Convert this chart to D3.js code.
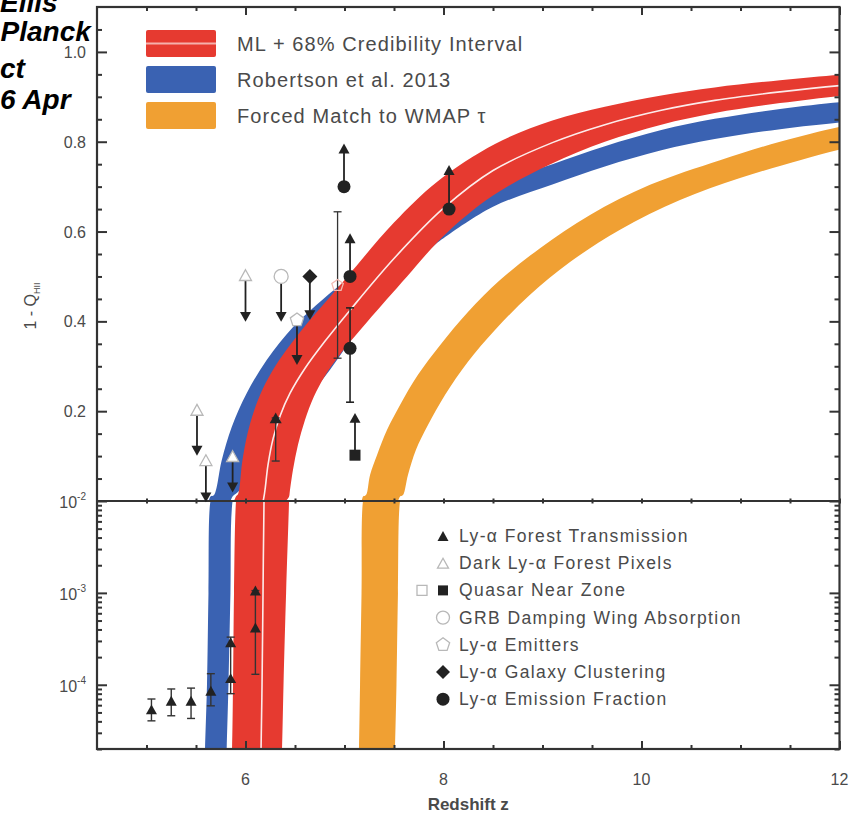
<!DOCTYPE html>
<html>
<head>
<meta charset="utf-8">
<script src="https://cdn.jsdelivr.net/npm/d3@7"></script>
<style>
  body { margin: 0; background: #fff; }
  svg { display: block; }
  text { font-family: "Liberation Sans", Arial, Helvetica, sans-serif; }
</style>
</head>
<body>
<svg id="chart" width="860" height="822"></svg>
<script>
// ---------------- data ----------------
const redshiftTicks = [6, 8, 10, 12];
const redshiftMinor = [5, 5.5, 6.5, 7, 7.5, 8.5, 9, 9.5, 10.5, 11, 11.5];
const linearTicks = [0.2, 0.4, 0.6, 0.8, 1.0];
const linearMinor = [0.05, 0.1, 0.15, 0.25, 0.3, 0.35, 0.45, 0.5, 0.55, 0.65, 0.7, 0.75, 0.85, 0.9, 0.95, 1.05];
const logTicks = [1e-2, 1e-3, 1e-4];
const logTickLabels = ["-2", "-3", "-4"];
const logMinor = [2e-5, 3e-5, 4e-5, 5e-5, 6e-5, 7e-5, 8e-5, 9e-5,
                  2e-4, 3e-4, 4e-4, 5e-4, 6e-4, 7e-4, 8e-4, 9e-4,
                  2e-3, 3e-3, 4e-3, 5e-3, 6e-3, 7e-3, 8e-3, 9e-3];

// band edges as [redshift, 1 - Q_HII]
const mlUpper = [[5.855,1.2e-5],[5.864,2e-5],[5.874,1e-4],[5.884,1e-3],[5.904,0.01],[5.926,0.016],
  [5.968,0.089],[6.02,0.15],[6.085,0.2],[6.175,0.25],[6.3,0.3],[6.46,0.35],[6.64,0.4],[6.855,0.455],
  [7.03,0.5],[7.5,0.62],[7.93,0.71],[8.52,0.795],[9.1,0.847],[9.63,0.878],[10.2,0.903],[10.74,0.921],
  [11.4,0.937],[12,0.949],[12.3,0.954]];
const mlLower = [[6.36,1.2e-5],[6.369,2e-5],[6.384,1e-4],[6.41,1e-3],[6.44,0.01],[6.447,0.02],
  [6.48,0.07],[6.53,0.125],[6.6,0.18],[6.69,0.232],[6.8,0.278],[6.939,0.322],[7.226,0.398],[7.632,0.5],
  [8.0,0.59],[8.5,0.68],[9.08,0.75],[9.63,0.8],[10.2,0.838],[10.74,0.864],[11.4,0.886],[12,0.902],[12.3,0.908]];
const mlBest = [[6.15,1.2e-5],[6.157,2e-5],[6.167,1e-4],[6.177,1e-3],[6.187,0.01],[6.2,0.03],
  [6.227,0.08],[6.28,0.14],[6.35,0.19],[6.45,0.24],[6.6,0.295],[6.8,0.355],[7.056,0.425],[7.5,0.54],
  [8.0,0.652],[8.5,0.736],[9.1,0.798],[9.63,0.838],[10.2,0.87],[10.74,0.892],[11.4,0.911],[12,0.925],[12.3,0.93]];

const robUpper = [[5.585,1.2e-5],[5.591,2e-5],[5.611,1e-4],[5.626,1e-3],[5.646,0.01],[5.682,0.0134],
  [5.76,0.091],[5.861,0.165],[6.012,0.24],[6.214,0.314],[6.483,0.388],[6.786,0.45],[7.0,0.488],
  [7.3,0.54],[7.6,0.59],[8.0,0.645],[8.5,0.705],[9.1,0.75],[9.63,0.79],[10.2,0.826],[10.74,0.851],
  [11.4,0.873],[12,0.888],[12.31,0.893]];
const robLower = [[5.805,1.2e-5],[5.81,2e-5],[5.828,1e-4],[5.848,1e-3],[5.869,0.01],[5.944,0.0245],
  [6.096,0.091],[6.45,0.18],[6.854,0.292],[7.2,0.4],[7.6,0.5],[7.9,0.568],[8.0,0.585],[8.5,0.655],
  [9.1,0.705],[9.63,0.745],[10.2,0.781],[10.74,0.806],[11.4,0.828],[12,0.843],[12.31,0.849]];

const wmapUpper = [[7.14,1.2e-5],[7.146,2e-5],[7.157,1e-4],[7.172,1e-3],[7.187,0.01],[7.217,0.0134],
  [7.258,0.058],[7.328,0.102],[7.429,0.158],[7.561,0.214],[7.742,0.281],[7.965,0.347],[8.247,0.421],
  [8.571,0.492],[8.975,0.563],[9.48,0.637],[10.086,0.704],[10.793,0.759],[11.399,0.8],[11.995,0.833],[12.308,0.846]];
const wmapLower = [[7.505,1.2e-5],[7.51,2e-5],[7.525,1e-4],[7.54,1e-3],[7.561,0.01],[7.591,0.0134],
  [7.641,0.058],[7.722,0.114],[7.843,0.169],[8.015,0.236],[8.247,0.31],[8.52,0.381],[8.874,0.459],
  [9.278,0.532],[9.783,0.604],[10.389,0.67],[10.995,0.719],[11.601,0.759],[11.995,0.782],[12.308,0.797]];

// observational constraints
const forestLog = [
  {z: 5.05, v: 5.4e-5, lo: 4.05e-5, hi: 7.0e-5},
  {z: 5.25, v: 6.7e-5, lo: 4.6e-5, hi: 9.0e-5},
  {z: 5.45, v: 6.7e-5, lo: 4.3e-5, hi: 9.2e-5},
  {z: 5.65, v: 8.6e-5, lo: 5.9e-5, hi: 1.32e-4},
  {z: 5.85, v: 1.18e-4, lo: 8.0e-5, hi: 3.3e-4},
  {z: 5.85, v: 2.9e-4},
  {z: 6.1, v: 4.2e-4, lo: 1.3e-4, hi: 1.06e-3},
  {z: 6.1, v: 1.06e-3}
];
const forestLin = [{z: 6.305, v: 0.185, lo: 0.089}];
const darkPixels = [
  {z: 5.51, v: 0.203, to: 0.112},
  {z: 5.6, v: 0.091, to: 0.008},
  {z: 5.87, v: 0.1, to: 0.03},
  {z: 6.0, v: 0.503, to: 0.41}
];
const quasarZone = [{z: 7.106, v: 0.102, to: 0.185}];
const grbWing = [{z: 6.36, v: 0.5, to: 0.41}];
const lyaEmitters = [{z: 6.52, v: 0.403, to: 0.314}];
const lyaEmittersErr = [{z: 6.93, v: 0.48, lo: 0.318, hi: 0.644}];
const lyaClustering = [{z: 6.65, v: 0.5, to: 0.414}];
const emissionFraction = [
  {z: 6.995, v: 0.70, to: 0.785},
  {z: 7.056, v: 0.50, to: 0.585},
  {z: 8.056, v: 0.65, to: 0.737}
];
const emissionFractionErr = [{z: 7.056, v: 0.34, lo: 0.22, hi: 0.43}];

const bandLegend = ["ML + 68% Credibility Interval", "Robertson et al. 2013", "Forced Match to WMAP τ"];
const pointLegend = ["Ly-α Forest Transmission", "Dark Ly-α Forest Pixels", "Quasar Near Zone",
  "GRB Damping Wing Absorption", "Ly-α Emitters", "Ly-α Galaxy Clustering", "Ly-α Emission Fraction"];
const sideNotes = ["Ellis", "Planck", "ct", "6 Apr"];

// ---------------- layout ----------------
const L = 97, R = 839.5, T = 7, M = 501, B = 749;
const RED = "#e63a30", BLUE = "#3a62b2", ORANGE = "#f0a033";
const INK = "#222", GREY = "#4a4a4a", OPEN = "#b8b8b8";

const x = d3.scaleLinear().domain([4.5, 12]).range([L, R]);
const yLin = d3.scaleLinear().domain([0, 1.1]).range([M, T]);
const yLog = d3.scaleLog().domain([2e-5, 1e-2]).range([B, M]);

const svg = d3.select("#chart");
const defs = svg.append("defs");
defs.append("clipPath").attr("id", "clipTop").append("rect")
  .attr("x", L).attr("y", T).attr("width", R - L).attr("height", M - T);
defs.append("clipPath").attr("id", "clipBot").append("rect")
  .attr("x", L).attr("y", M).attr("width", R - L).attr("height", B - M);

const smooth = d3.curveCatmullRom.alpha(0.5);
function bandPath(upper, lower, ys) {
  const line = d3.line().x(d => x(d[0])).y(d => ys(d[1])).curve(smooth);
  const a = line(upper);
  const b = line(lower.slice().reverse());
  return a + "L" + b.slice(1) + "Z";
}

// ---------------- bands in both panels ----------------
[[yLin, "clipTop"], [yLog, "clipBot"]].forEach(([ys, clip]) => {
  const g = svg.append("g").attr("clip-path", `url(#${clip})`);
  g.append("path").attr("d", bandPath(wmapUpper, wmapLower, ys)).attr("fill", ORANGE);
  g.append("path").attr("d", bandPath(robUpper, robLower, ys)).attr("fill", BLUE);
  g.append("path").attr("d", bandPath(mlUpper, mlLower, ys)).attr("fill", RED);
  g.append("path")
    .attr("d", d3.line().x(d => x(d[0])).y(d => ys(d[1])).curve(smooth)(mlBest))
    .attr("fill", "none").attr("stroke", "#fff").attr("stroke-width", 1.6).attr("stroke-opacity", 0.9);
});

// ---------------- frame and ticks ----------------
const axes = svg.append("g").attr("class", "axes");
function tickAxis(axisFn, scale, values, size, transform) {
  const g = axes.append("g").attr("transform", transform)
    .call(axisFn(scale).tickValues(values).tickSizeInner(size).tickSizeOuter(0).tickFormat(""));
  g.select(".domain").remove();
  g.selectAll("line").attr("stroke", "#333").attr("stroke-width", 2);
  return g;
}
// x ticks: bottom, top, and the panel divider
tickAxis(d3.axisBottom, x, redshiftTicks, -8, `translate(0,${B})`);
tickAxis(d3.axisBottom, x, redshiftMinor, -4, `translate(0,${B})`);
tickAxis(d3.axisTop, x, redshiftTicks, -8, `translate(0,${T})`);
tickAxis(d3.axisTop, x, redshiftMinor, -4, `translate(0,${T})`);
tickAxis(d3.axisBottom, x, redshiftTicks, 5, `translate(0,${M - 2.5})`);
tickAxis(d3.axisBottom, x, redshiftMinor, 5, `translate(0,${M - 2.5})`);
// y ticks on both sides, linear panel
tickAxis(d3.axisLeft, yLin, linearTicks, -10, `translate(${L},0)`);
tickAxis(d3.axisLeft, yLin, linearMinor, -5, `translate(${L},0)`);
tickAxis(d3.axisRight, yLin, linearTicks, -10, `translate(${R},0)`);
tickAxis(d3.axisRight, yLin, linearMinor, -5, `translate(${R},0)`);
// y ticks on both sides, log panel
tickAxis(d3.axisLeft, yLog, logTicks, -10, `translate(${L},0)`);
tickAxis(d3.axisLeft, yLog, logMinor, -5, `translate(${L},0)`);
tickAxis(d3.axisRight, yLog, logTicks, -10, `translate(${R},0)`);
tickAxis(d3.axisRight, yLog, logMinor, -5, `translate(${R},0)`);

axes.append("rect").attr("x", L).attr("y", T).attr("width", R - L).attr("height", B - T)
  .attr("fill", "none").attr("stroke", "#333").attr("stroke-width", 2.2);
axes.append("line").attr("x1", L).attr("x2", R).attr("y1", M).attr("y2", M)
  .attr("stroke", "#333").attr("stroke-width", 2.2);

// tick labels
const labels = svg.append("g").attr("fill", GREY).attr("font-size", 16);
labels.selectAll(".xl").data(redshiftTicks).join("text")
  .attr("x", d => x(d)).attr("y", 785).attr("text-anchor", "middle").text(d => d);
labels.selectAll(".yl").data(linearTicks).join("text")
  .attr("x", L - 11).attr("y", d => yLin(d) + 6).attr("text-anchor", "end").text(d => d.toFixed(1));
const logLab = labels.selectAll(".ll").data(logTicks).join("text")
  .attr("x", L - 11).attr("y", (d, i) => yLog(d) + 7).attr("text-anchor", "end");
logLab.append("tspan").text("10");
logLab.append("tspan").attr("font-size", 10).attr("dy", -8).text((d, i) => logTickLabels[i]);

svg.append("text").attr("x", (L + R) / 2).attr("y", 810).attr("text-anchor", "middle")
  .attr("font-size", 17).attr("font-weight", "bold").attr("fill", GREY).text("Redshift z");
const yt = svg.append("text").attr("transform", "translate(36,306) rotate(-90)")
  .attr("text-anchor", "middle").attr("font-size", 16).attr("fill", GREY);
yt.append("tspan").text("1 - Q");
yt.append("tspan").attr("font-size", 9).attr("dy", 4).text("HII");

// ---------------- markers ----------------
const pts = svg.append("g");
function triPath(s, dir) { // dir -1 up, +1 down
  const h = s * 0.9;
  return `M0,${dir * h / 2}L${s / 2},${-dir * h / 2}L${-s / 2},${-dir * h / 2}Z`;
}
function pentPath(r) {
  const p = d3.range(5).map(i => { const a = -Math.PI / 2 + i * 2 * Math.PI / 5; return [r * Math.cos(a), r * Math.sin(a)]; });
  return "M" + p.map(q => q.join(",")).join("L") + "Z";
}
function diamondPath(r) { return `M0,${-r}L${r},0L0,${r}L${-r},0Z`; }
function squarePath(r) { return `M${-r},${-r}H${r}V${r}H${-r}Z`; }
function circlePath(r) { return `M${-r},0A${r},${r} 0 1,0 ${r},0A${r},${r} 0 1,0 ${-r},0Z`; }

function marker(g, cx, cy, d, fill, stroke) {
  g.append("path").attr("transform", `translate(${cx},${cy})`).attr("d", d)
    .attr("fill", fill).attr("stroke", stroke || "none").attr("stroke-width", 1.3);
}
function arrow(g, cx, y0, y1) {
  const dir = y1 > y0 ? 1 : -1;
  g.append("line").attr("x1", cx).attr("x2", cx).attr("y1", y0).attr("y2", y1)
    .attr("stroke", INK).attr("stroke-width", 1.8);
  marker(g, cx, y1, triPath(11, dir), INK);
}
function errBar(g, cx, y0, y1, col, w) {
  g.append("line").attr("x1", cx).attr("x2", cx).attr("y1", y0).attr("y2", y1)
    .attr("stroke", col).attr("stroke-width", w);
  [y0, y1].forEach(yy => g.append("line").attr("x1", cx - 4).attr("x2", cx + 4).attr("y1", yy).attr("y2", yy)
    .attr("stroke", col).attr("stroke-width", w));
}

// Lyman-alpha forest transmission (log panel)
forestLog.forEach(d => {
  if (d.lo !== undefined) errBar(pts, x(d.z), yLog(d.lo), yLog(d.hi), "#333", 1.4);
  marker(pts, x(d.z), yLog(d.v), triPath(11, -1), INK);
});
forestLin.forEach(d => {
  errBar(pts, x(d.z), yLin(d.lo), yLin(d.v), "#333", 1.4);
  marker(pts, x(d.z), yLin(d.v), triPath(12, -1), INK);
});
// dark pixel upper limits
darkPixels.forEach(d => {
  arrow(pts, x(d.z), yLin(d.v), yLin(d.to));
  marker(pts, x(d.z), yLin(d.v), triPath(12, -1), "#fff", OPEN);
});
// GRB
grbWing.forEach(d => {
  arrow(pts, x(d.z), yLin(d.v), yLin(d.to));
  marker(pts, x(d.z), yLin(d.v), circlePath(7), "#fff", OPEN);
});
// Lyman-alpha emitters
lyaEmitters.forEach(d => {
  arrow(pts, x(d.z), yLin(d.v), yLin(d.to));
  marker(pts, x(d.z), yLin(d.v), pentPath(7), "#fff", OPEN);
});
lyaEmittersErr.forEach(d => {
  errBar(pts, x(d.z), yLin(d.lo), yLin(d.hi), "#333", 1.3);
  marker(pts, x(d.z), yLin(d.v), pentPath(6), "none", "#f2b8b0");
});
// clustering
lyaClustering.forEach(d => {
  arrow(pts, x(d.z), yLin(d.v), yLin(d.to));
  marker(pts, x(d.z), yLin(d.v), diamondPath(7.5), INK);
});
// quasar near zone
quasarZone.forEach(d => {
  arrow(pts, x(d.z), yLin(d.v), yLin(d.to));
  marker(pts, x(d.z), yLin(d.v), squarePath(5.5), INK);
});
// emission fraction
emissionFractionErr.forEach(d => {
  errBar(pts, x(d.z), yLin(d.lo), yLin(d.hi), "#222", 1.6);
  marker(pts, x(d.z), yLin(d.v), circlePath(6.5), INK);
});
emissionFraction.forEach(d => {
  arrow(pts, x(d.z), yLin(d.v), yLin(d.to));
  marker(pts, x(d.z), yLin(d.v), circlePath(6.5), INK);
});

// ---------------- legends ----------------
const leg = svg.append("g");
const swatchColors = [RED, BLUE, ORANGE];
bandLegend.forEach((t, i) => {
  const y0 = 30 + i * 36;
  leg.append("rect").attr("x", 146).attr("y", y0).attr("width", 70).attr("height", 27)
    .attr("rx", 2).attr("fill", swatchColors[i]);
  if (i === 0) leg.append("line").attr("x1", 146).attr("x2", 216).attr("y1", y0 + 13.5).attr("y2", y0 + 13.5)
    .attr("stroke", "#fff").attr("stroke-opacity", 0.6).attr("stroke-width", 2);
  leg.append("text").attr("x", 237).attr("y", y0 + 21).attr("font-size", 20)
    .attr("letter-spacing", 1.1).attr("fill", GREY).text(t);
});

const legMarks = [
  g => marker(g, 0, 0, triPath(11, -1), INK),
  g => marker(g, 0, 0, triPath(11, -1), "#fff", OPEN),
  g => { marker(g, 0, 0, squarePath(5), INK); marker(g, -21, 0, squarePath(5), "#fff", OPEN); },
  g => marker(g, 0, 0, circlePath(6.5), "#fff", OPEN),
  g => marker(g, 0, 0, pentPath(7), "#fff", OPEN),
  g => marker(g, 0, 0, diamondPath(7), INK),
  g => marker(g, 0, 0, circlePath(6.5), INK)
];
pointLegend.forEach((t, i) => {
  const yy = 536 + i * 27.2;
  const g = leg.append("g").attr("transform", `translate(443,${yy})`);
  legMarks[i](g);
  leg.append("text").attr("x", 459).attr("y", yy + 6).attr("font-size", 17.5)
    .attr("letter-spacing", 1.4).attr("fill", GREY).text(t);
});

// side notes on the left edge
const notes = svg.append("g").attr("font-size", 28).attr("font-weight", "bold")
  .attr("font-style", "italic").attr("fill", "#000");
const noteX = [0, 0.5, 0, 0], noteY = [12, 41, 78, 109];
sideNotes.forEach((t, i) => notes.append("text").attr("x", noteX[i]).attr("y", noteY[i]).text(t));
</script>
</body>
</html>
